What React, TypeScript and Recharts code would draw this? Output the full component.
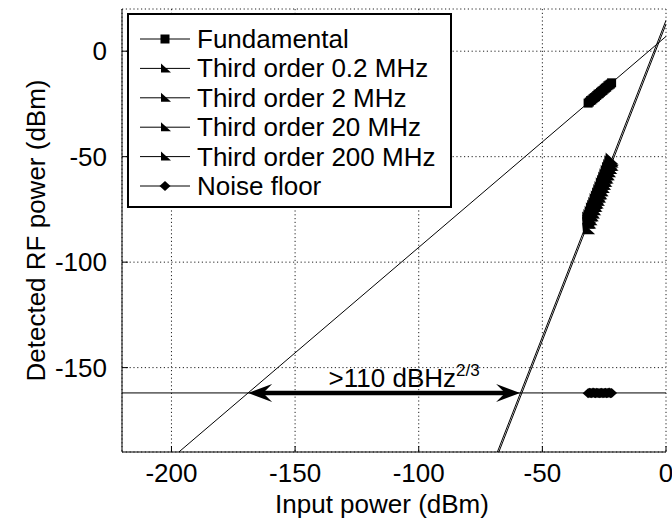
import { ComposedChart, Line, Scatter, XAxis, YAxis, CartesianGrid, ReferenceLine, Legend } from 'recharts';

const FONT = '"Liberation Sans", Arial, Helvetica, sans-serif';

const xTicks = [-200, -150, -100, -50, 0];
const yTicks = [0, -50, -100, -150];

// measured input powers (dBm)
const inputPower = [-31.5, -31, -30.5, -30, -29.5, -29, -28.5, -28, -27.5, -27, -26.5, -26, -25.5, -25, -24.5, -24, -23.5, -23, -22.5, -22];

// detected RF power (dBm)
const fundamental = [-24.6, -24.1, -23.4, -23.1, -22.5, -22.0, -21.6, -21.0, -20.4, -20.1, -19.5, -19.0, -18.6, -18.0, -17.5, -17.1, -16.4, -16.0, -15.6, -15.0];
const third02 = [-81.8, -79.2, -78.4, -76.1, -75.3, -73.0, -72.4, -70.1, -69.3, -67.2, -66.4, -64.1, -63.3, -61.2, -60.4, -58.1, -57.3, -55.2, -54.4, -52.1];
const third2 = [-80.6, -79.9, -77.6, -76.8, -74.7, -73.9, -71.6, -70.8, -68.7, -67.9, -65.6, -64.8, -62.7, -61.9, -59.6, -58.8, -56.7, -55.9, -53.6, -52.8];
const third20 = [-79.3, -78.1, -76.6, -74.9, -73.7, -72.3, -70.6, -69.2, -67.8, -66.3, -64.8, -63.1, -61.9, -60.3, -58.8, -57.2, -55.7, -54.4, -52.7, -51.3];
const third200 = [-84.4, -81.7, -80.1, -78.3, -76.9, -75.4, -73.8, -72.2, -70.9, -69.3, -67.8, -66.4, -64.8, -63.3, -61.9, -60.3, -58.8, -57.4, -55.8, -54.3];
const noiseFloor = [-162.1, -161.9, -162.0, -162.2, -161.8, -162.0, -162.1, -161.9, -162.0, -162.1, -162.0, -161.9, -162.2, -162.0, -161.9, -162.1, -162.0, -161.8, -162.1, -162.0];

// fitted lines: [x, y] end points
const fundamentalFitX = [-197, 0];
const fundamentalFitY = [-190, 7];
const thirdFitAX = [-67.6, 0];
const thirdFitAY = [-190, 12.8];
const thirdFitBX = [-68.2, 0];
const thirdFitBY = [-190, 14.6];
const noiseFitX = [-220, 0];
const noiseFitY = [-162, -162];

// dynamic range arrow
const arrowX = [-169, -59];
const arrowY = -162;

const legendNames = ['Fundamental', 'Third order 0.2 MHz', 'Third order 2 MHz', 'Third order 20 MHz', 'Third order 200 MHz', 'Noise floor'];
const legendMarks = ['square', 'tri', 'tri', 'tri', 'tri', 'diamond'];

const pts = (xs: number[], ys: number[]) => xs.map((x, i) => ({ x, y: ys[i] }));

const Mark = ({ kind, cx, cy, big }: { kind: string; cx: number; cy: number; big?: boolean }) => {
    if (kind === 'square') return <rect x={cx - 4.5} y={cy - 4.5} width={9} height={9} fill="#000" />;
    if (kind === 'diamond') return <polygon points={`${cx - 5.5},${cy} ${cx},${cy - 5} ${cx + 5.5},${cy} ${cx},${cy + 5}`} fill="#000" />;
    if (big) return <polygon points={`${cx - 6},${cy - 7} ${cx + 7},${cy + 5} ${cx - 5},${cy + 5}`} fill="#000" />;
    return <polygon points={`${cx - 4},${cy - 5} ${cx + 6},${cy + 4} ${cx - 4},${cy + 4}`} fill="#000" />;
};

const shapeOf = (kind: string) => (p: any) => <Mark kind={kind} cx={p.cx} cy={p.cy} big />;

const BottomTick = ({ x, y, payload }: any) => (
    <g>
        <line x1={x} y1={y} x2={x} y2={y - 6} stroke="#000" />
        <text x={x} y={y + 30} textAnchor="middle" fontSize={26} fontFamily={FONT} fill="#000">{payload.value}</text>
    </g>
);
const LeftTick = ({ x, y, payload }: any) => (
    <g>
        <line x1={x} y1={y} x2={x + 6} y2={y} stroke="#000" />
        <text x={x - 15} y={y + 9} textAnchor="end" fontSize={26} fontFamily={FONT} fill="#000">{payload.value}</text>
    </g>
);
const TopTick = ({ x, y }: any) => <line x1={x} y1={y} x2={x} y2={y + 6} stroke="#000" />;
const RightTick = ({ x, y }: any) => <line x1={x} y1={y} x2={x - 6} y2={y} stroke="#000" />;

const ArrowShape = ({ x1, y1, x2 }: any) => {
    const L = 24, w = 9, n = 15;
    return (
        <g>
            <line x1={x1 + 10} y1={y1} x2={x2 - 10} y2={y1} stroke="#000" strokeWidth={4.5} />
            <polygon points={`${x1},${y1} ${x1 + L},${y1 - w} ${x1 + n},${y1} ${x1 + L},${y1 + w}`} fill="#000" />
            <polygon points={`${x2},${y1} ${x2 - L},${y1 - w} ${x2 - n},${y1} ${x2 - L},${y1 + w}`} fill="#000" />
            <text x={(x1 + x2) / 2 + 20} y={y1 - 6} textAnchor="middle" fontSize={26} fontFamily={FONT} fill="#000">
                &gt;110 dBHz<tspan fontSize={17} dy={-11}>2/3</tspan>
            </text>
        </g>
    );
};

const LegendBox = () => (
    <div style={{ width: 321, height: 191, border: '2px solid #000', background: '#fff' }}>
        <svg width={321} height={191}>
            {legendNames.map((name, i) => {
                const cy = 24 + i * 29.4;
                return (
                    <g key={name}>
                        <line x1={11} y1={cy} x2={61} y2={cy} stroke="#000" />
                        <Mark kind={legendMarks[i]} cx={36} cy={cy} />
                        <text x={68} y={cy + 9} fontSize={26} fontFamily={FONT} fill="#000">{name}</text>
                    </g>
                );
            })}
        </svg>
    </div>
);

export default function App() {
    const thirdSeries = [third02, third2, third20, third200];
    return (
        <div style={{ position: 'absolute', left: 0, top: 0, background: '#fff' }}>
            <ComposedChart width={672} height={520} margin={{ top: 9, right: 6, left: 0, bottom: 0 }}>
                <CartesianGrid stroke="#222" strokeDasharray="1.2 2.6" />
                <XAxis
                    dataKey="x" type="number" domain={[-220, 0]} ticks={xTicks} allowDataOverflow
                    height={68} tickSize={0} tickMargin={0} tickLine={false} axisLine={{ stroke: '#000' }}
                    tick={<BottomTick />} interval={0}
                    label={{ content: ({ viewBox }: any) => (
                        <text x={viewBox.x + viewBox.width / 2 - 12} y={513} textAnchor="middle" fontSize={26} fontFamily={FONT} fill="#000">Input power (dBm)</text>
                    ) }}
                />
                <XAxis
                    xAxisId="top" orientation="top" type="number" domain={[-220, 0]} ticks={xTicks} allowDataOverflow
                    height={0} tickSize={0} tickMargin={0} tickLine={false} axisLine={{ stroke: '#000' }}
                    tick={<TopTick />} interval={0}
                />
                <YAxis
                    dataKey="y" type="number" domain={[-190, 20]} ticks={yTicks} allowDataOverflow
                    width={122} tickSize={0} tickMargin={0} tickLine={false} axisLine={{ stroke: '#000' }}
                    tick={<LeftTick />} interval={0}
                    label={{ content: ({ viewBox }: any) => (
                        <text transform={`translate(45, ${viewBox.y + viewBox.height / 2}) rotate(-90)`} textAnchor="middle" fontSize={26} fontFamily={FONT} fill="#000">Detected RF power (dBm)</text>
                    ) }}
                />
                <YAxis
                    yAxisId="right" orientation="right" type="number" domain={[-190, 20]} ticks={yTicks} allowDataOverflow
                    width={0} tickSize={0} tickMargin={0} tickLine={false} axisLine={{ stroke: '#000' }}
                    tick={<RightTick />} interval={0}
                />
                <Line data={pts(fundamentalFitX, fundamentalFitY)} dataKey="y" stroke="#000" strokeWidth={1} dot={false} isAnimationActive={false} legendType="none" />
                <Line data={pts(thirdFitAX, thirdFitAY)} dataKey="y" stroke="#000" strokeWidth={1} dot={false} isAnimationActive={false} legendType="none" />
                <Line data={pts(thirdFitBX, thirdFitBY)} dataKey="y" stroke="#000" strokeWidth={1} dot={false} isAnimationActive={false} legendType="none" />
                <Line data={pts(noiseFitX, noiseFitY)} dataKey="y" stroke="#000" strokeWidth={1} dot={false} isAnimationActive={false} legendType="none" />
                <Scatter name="Fundamental" data={pts(inputPower, fundamental)} shape={shapeOf('square')} isAnimationActive={false} />
                {thirdSeries.map((s, i) => (
                    <Scatter key={i} name={legendNames[i + 1]} data={pts(inputPower, s)} shape={shapeOf('tri')} isAnimationActive={false} />
                ))}
                <Scatter name="Noise floor" data={pts(inputPower, noiseFloor)} shape={shapeOf('diamond')} isAnimationActive={false} />
                <ReferenceLine
                    segment={[{ x: arrowX[0], y: arrowY }, { x: arrowX[1], y: arrowY }]}
                    shape={<ArrowShape />}
                />
                <Legend
                    layout="vertical" align="center" verticalAlign="middle"
                    wrapperStyle={{ top: 13, left: 127, width: 325, height: 195 }}
                    content={<LegendBox />}
                />
            </ComposedChart>
        </div>
    );
}
